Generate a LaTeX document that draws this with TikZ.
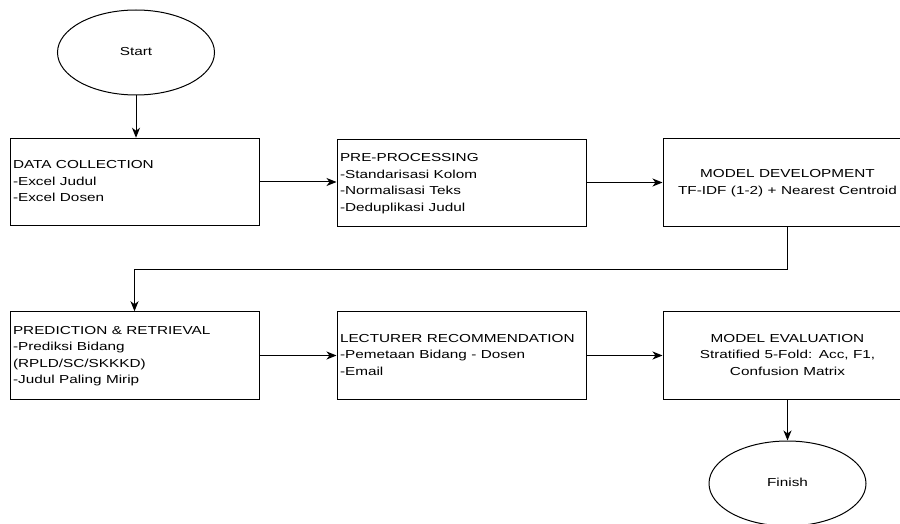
\documentclass[tikz,border=0pt]{standalone}
\usepackage{fontspec}
\setmainfont{Liberation Sans}
\usepackage{graphicx}
\usetikzlibrary{arrows.meta,shapes.geometric}
\newcommand{\boxtext}[2]{\scalebox{1.32}[1]{\fontsize{11.6}{16.5}\selectfont\begin{tabular}{@{}#1@{}}#2\end{tabular}}}
\begin{document}
\begin{tikzpicture}[x=1pt,y=-1pt,
 box/.style={draw, line width=1pt, minimum height=87.5pt, text width=243pt, inner xsep=3pt, inner ysep=0pt},
 lbox/.style={box, align=left},
 cbox/.style={box, align=center},
 term/.style={draw, ellipse, line width=1pt, minimum width=157pt, minimum height=85pt, inner sep=0pt},
 flow/.style={line width=1pt, -{Stealth[length=10pt,width=8pt,inset=3pt]}}]
\useasboundingbox (0,0) rectangle (900,524);

\node[term] (start) at (136,52.5) {\boxtext{c}{Start}};
\node[term] (finish) at (787.5,483.5) {\boxtext{c}{Finish}};

\node[lbox] (b1) at (134.5,182) {\boxtext{l}{DATA COLLECTION\\-Excel Judul\\-Excel Dosen}};
\node[lbox] (b2) at (461.5,183) {\boxtext{l}{PRE-PROCESSING\\-Standarisasi Kolom\\-Normalisasi Teks\\-Deduplikasi Judul}};
\node[cbox] (b3) at (787.5,182.5) {\boxtext{c}{MODEL DEVELOPMENT\\TF-IDF (1-2) + Nearest Centroid}};

\node[lbox] (b4) at (134.5,355.5) {\boxtext{l}{PREDICTION \& RETRIEVAL\\-Prediksi Bidang\\(RPLD/SC/SKKKD)\\-Judul Paling Mirip}};
\node[lbox] (b5) at (461.5,355.5) {\boxtext{l}{LECTURER RECOMMENDATION\\-Pemetaan Bidang - Dosen\\-Email}};
\node[cbox] (b6) at (787.5,355.5) {\boxtext{c}{MODEL EVALUATION\\Stratified 5-Fold: Acc, F1,\\Confusion Matrix}};

\draw[flow] (start.south) -- (b1.north -| start.south);
\draw[flow] (b1.east) -- (b2.west |- b1.east);
\draw[flow] (b2.east |- b3.west) -- (b3.west);
\draw[flow] (b3.south) -- ++(0,43) -| (b4.north);
\draw[flow] (b4.east) -- (b5.west);
\draw[flow] (b5.east) -- (b6.west);
\draw[flow] (b6.south) -- (finish.north);
\end{tikzpicture}
\end{document}
